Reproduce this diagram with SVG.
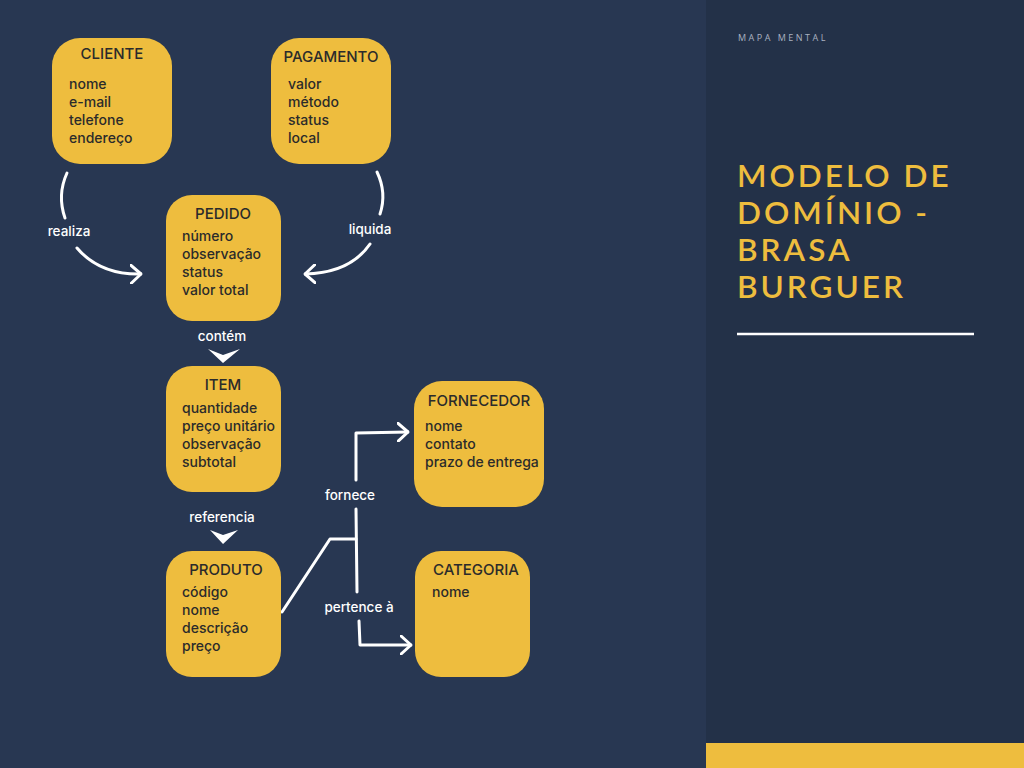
<svg xmlns="http://www.w3.org/2000/svg" width="1024" height="768" viewBox="0 0 1024 768">
<defs>
<style>
.node{fill:#EEBD3E}
.title{font-family:Inter,"Open Sans",sans-serif;font-size:15px;font-weight:500;fill:#2b2b2b;text-anchor:middle}
.field{font-family:Inter,"Open Sans",sans-serif;font-size:14px;font-weight:500;fill:#2b2b2b}
.lbl{font-family:Inter,"Open Sans",sans-serif;font-size:13.5px;font-weight:500;fill:#ffffff;text-anchor:middle}
.conn{fill:none;stroke:#ffffff;stroke-width:3;stroke-linecap:round;stroke-linejoin:round}
</style>
<marker id="chev" viewBox="0 0 12 20" refX="11" refY="10" markerWidth="12" markerHeight="20" markerUnits="userSpaceOnUse" orient="auto">
<path d="M1 1 L11 10 L1 19" fill="none" stroke="#ffffff" stroke-width="3" stroke-linecap="round" stroke-linejoin="round"/>
</marker>
</defs>
<rect x="0" y="0" width="1024" height="768" fill="#283752"/>
<rect x="706" y="0" width="318" height="768" fill="#233148"/>
<rect x="706" y="743" width="318" height="25" fill="#EEBD3E"/>
<text x="738" y="41" font-family="'Open Sans','Liberation Sans',sans-serif" font-size="9" letter-spacing="2.5" fill="#aab1c0">MAPA MENTAL</text>
<g font-family="Lato,'Open Sans',sans-serif" font-size="31.5" font-weight="600" fill="#EEBD3E" letter-spacing="3">
<text x="737" y="187">MODELO DE</text>
<text x="737" y="224">DOMÍNIO -</text>
<text x="737" y="261">BRASA</text>
<text x="737" y="298">BURGUER</text>
</g>
<line x1="737" y1="334" x2="974" y2="334" stroke="#ffffff" stroke-width="2.5"/>

<g id="connectors">
<path class="conn" d="M67 173 Q57 195 65 218"/>
<path class="conn" d="M77 248 Q100 275 141 274" marker-end="url(#chev)"/>
<path class="conn" d="M377 172 Q387 193 380 214"/>
<path class="conn" d="M370 244 Q350 273 305 274" marker-end="url(#chev)"/>
<polygon points="208,349 223,355 240,349 223,363" fill="#ffffff"/>
<polygon points="210,530 223,535 238,530 223,544" fill="#ffffff"/>
<path class="conn" d="M282 612 L330 539 L356 539"/>
<path class="conn" d="M356 480 L356 433 L408 432" marker-end="url(#chev)"/>
<path class="conn" d="M356 509 L357 592"/>
<path class="conn" d="M359 621 L360 645 L411 645" marker-end="url(#chev)"/>
<text class="lbl" x="69" y="236">realiza</text>
<text class="lbl" x="370" y="234">liquida</text>
<text class="lbl" x="222" y="341">contém</text>
<text class="lbl" x="222" y="522">referencia</text>
<text class="lbl" x="350" y="500">fornece</text>
<text class="lbl" x="359" y="612">pertence à</text>
</g>

<g id="cliente">
<rect class="node" x="52" y="38" width="120" height="126" rx="28"/>
<text class="title" x="112" y="59">CLIENTE</text>
<text class="field" x="69" y="89">nome</text>
<text class="field" x="69" y="107">e-mail</text>
<text class="field" x="69" y="125">telefone</text>
<text class="field" x="69" y="143">endereço</text>
</g>
<g id="pagamento">
<rect class="node" x="271" y="38" width="120" height="126" rx="28"/>
<text class="title" x="331" y="62">PAGAMENTO</text>
<text class="field" x="288" y="89">valor</text>
<text class="field" x="288" y="107">método</text>
<text class="field" x="288" y="125">status</text>
<text class="field" x="288" y="143">local</text>
</g>
<g id="pedido">
<rect class="node" x="166" y="195" width="115" height="126" rx="26"/>
<text class="title" x="223" y="219">PEDIDO</text>
<text class="field" x="182" y="241">número</text>
<text class="field" x="182" y="259">observação</text>
<text class="field" x="182" y="277">status</text>
<text class="field" x="182" y="295">valor total</text>
</g>
<g id="item">
<rect class="node" x="166" y="366" width="115" height="126" rx="26"/>
<text class="title" x="223" y="390">ITEM</text>
<text class="field" x="182" y="413">quantidade</text>
<text class="field" x="182" y="431">preço unitário</text>
<text class="field" x="182" y="449">observação</text>
<text class="field" x="182" y="467">subtotal</text>
</g>
<g id="produto">
<rect class="node" x="166" y="551" width="115" height="126" rx="26"/>
<text class="title" x="226" y="575">PRODUTO</text>
<text class="field" x="182" y="597">código</text>
<text class="field" x="182" y="615">nome</text>
<text class="field" x="182" y="633">descrição</text>
<text class="field" x="182" y="651">preço</text>
</g>
<g id="fornecedor">
<rect class="node" x="414" y="381" width="130" height="126" rx="28"/>
<text class="title" x="479" y="406">FORNECEDOR</text>
<text class="field" x="425" y="431">nome</text>
<text class="field" x="425" y="449">contato</text>
<text class="field" x="425" y="467">prazo de entrega</text>
</g>
<g id="categoria">
<rect class="node" x="415" y="551" width="115" height="126" rx="26"/>
<text class="title" x="476" y="575">CATEGORIA</text>
<text class="field" x="432" y="597">nome</text>
</g>
</svg>
